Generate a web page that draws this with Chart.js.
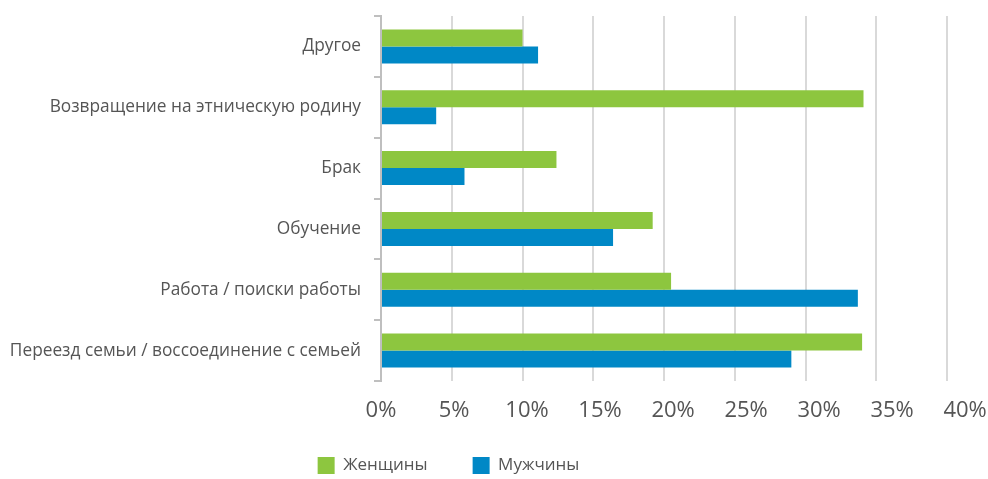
<!DOCTYPE html>
<html>
<head>
<meta charset="utf-8">
<script src="https://cdn.jsdelivr.net/npm/chart.js@4"></script>
<style>
  html, body { margin: 0; padding: 0; background: #fff; }
  #wrap { width: 988px; height: 479px; }
</style>
</head>
<body>
<div id="wrap"><canvas id="chart"></canvas></div>
<script>
const categories = [
    'Другое',
    'Возвращение на этническую родину',
    'Брак',
    'Обучение',
    'Работа / поиски работы',
    'Переезд семьи / воссоединение с семьей',
];
const women = [10.0, 34.1, 12.4, 19.2, 20.5, 34.0];
const men = [11.1, 3.9, 5.9, 16.4, 33.7, 29.0];
const seriesNames = ['Женщины', 'Мужчины'];
const xTicks = [0, 5, 10, 15, 20, 25, 30, 35, 40];

const FONT = "'Open Sans', sans-serif";
const TEXT = '#555555';
const LABEL_SPREAD = 1.032; // percent labels in the original sit a bit wider than the grid

// legend sits off-centre in the original, nudge it after layout
const legendNudge = {
    id: 'legendNudge',
    afterLayout(chart) {
        const l = chart.legend;
        l.left -= 30; l.right -= 30;
        l.top = 412; l.bottom = 479;
    }
};

const ctx = document.getElementById('chart').getContext('2d');
new Chart(ctx, {
    type: 'bar',
    data: {
        labels: categories,
        datasets: [
            { label: seriesNames[0], data: women, backgroundColor: '#8dc63f' },
            { label: seriesNames[1], data: men, backgroundColor: '#0088c6' },
        ],
    },
    options: {
        indexAxis: 'y',
        responsive: true,
        maintainAspectRatio: false,
        animation: false,
        categoryPercentage: 0.56,
        barPercentage: 1.0,
        layout: { padding: { top: 16, right: 41, left: 10, bottom: 0 } },
        plugins: {
            tooltip: { enabled: false },
            legend: {
                position: 'bottom',
                maxHeight: 30,
                labels: {
                    boxWidth: 17,
                    boxHeight: 17,
                    padding: 45,
                    color: TEXT,
                    font: { family: FONT, size: 17 },
                },
            },
        },
        scales: {
            x: {
                min: xTicks[0],
                max: xTicks[xTicks.length - 1],
                afterFit: (s) => { s.height = 0; s.paddingLeft = 0; s.paddingRight = 0; },
                grid: { color: '#d9d9d9', lineWidth: 2, drawTicks: false },
                border: { display: false },
                ticks: { stepSize: 5, display: false },
            },
            // label-only axis for the percent ticks
            xl: {
                type: 'linear',
                position: 'bottom',
                min: xTicks[0],
                max: xTicks[xTicks.length - 1] / LABEL_SPREAD,
                afterFit: (s) => { s.height = 68; s.paddingLeft = 0; s.paddingRight = 0; },
                afterBuildTicks: (s) => { s.ticks = xTicks.map(v => ({ value: v })); },
                grid: { display: false, drawTicks: false },
                border: { display: false },
                ticks: {
                    padding: 17,
                    color: TEXT,
                    font: { family: FONT, size: 22 },
                    callback: (v) => v + '%',
                },
            },
            y: {
                afterFit: (s) => { s.width = 371; s.paddingTop = 0; s.paddingBottom = 0; },
                grid: { offset: true, drawOnChartArea: false, color: '#bfbfbf', lineWidth: 2, tickLength: 7 },
                border: { color: '#bfbfbf', width: 2 },
                ticks: {
                    padding: 13,
                    color: TEXT,
                    font: { family: FONT, size: 17.3 },
                },
            },
        },
    },
    plugins: [legendNudge],
});
</script>
</body>
</html>
